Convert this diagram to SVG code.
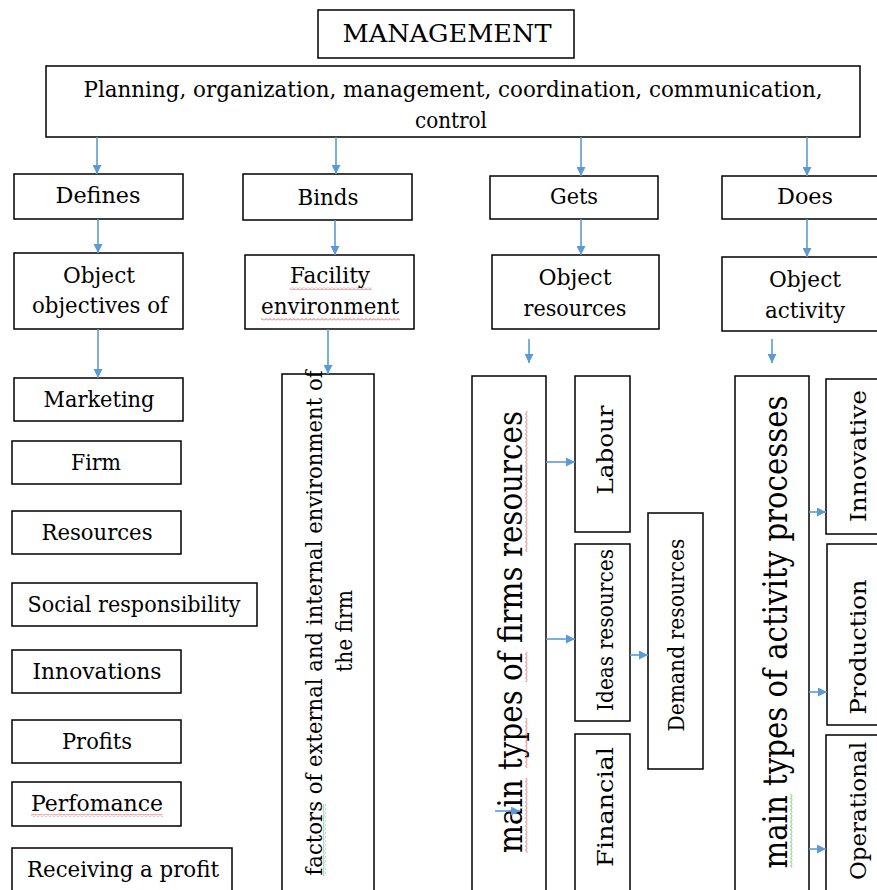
<svg xmlns="http://www.w3.org/2000/svg" width="877" height="890" viewBox="0 0 877 890">
<style>
.b{fill:#fff;stroke:#000;stroke-width:1.5}
.t{font-family:'DejaVu Serif','Liberation Serif',serif;font-size:23px;fill:#000;text-anchor:middle}
.big{font-size:33px}
.c{stroke:#5b9bd5;stroke-width:1.6;fill:none;marker-end:url(#ah)}
</style>
<defs>
<marker id="ah" viewBox="0 0 10 10" refX="10" refY="5" markerWidth="9" markerHeight="9" markerUnits="userSpaceOnUse" orient="auto"><path d="M0,0 L10,5 L0,10 z" fill="#5b9bd5"/></marker>
<pattern id="wr" width="4" height="3" patternUnits="userSpaceOnUse"><path d="M0,2.5 L2,0.5 L4,2.5" fill="none" stroke="#e03c3c" stroke-width="0.8"/></pattern>
<pattern id="wg" width="4" height="3" patternUnits="userSpaceOnUse"><path d="M0,2.5 L2,0.5 L4,2.5" fill="none" stroke="#3cae3c" stroke-width="0.8"/></pattern>
</defs>
<rect width="877" height="890" fill="#fff"/>

<g id="management"><rect class="b" x="318" y="10" width="256" height="48"/><text class="t" x="447" y="42" style="font-size:24px" textLength="209" lengthAdjust="spacingAndGlyphs">MANAGEMENT</text></g>
<g id="functions"><rect class="b" x="46" y="66" width="814" height="71"/><text class="t" x="453" y="97" textLength="739" lengthAdjust="spacingAndGlyphs">Planning, organization, management, coordination, communication,</text><text class="t" x="451" y="128" textLength="72" lengthAdjust="spacingAndGlyphs">control</text></g>

<g id="defines"><rect class="b" x="14" y="174" width="169" height="45"/><text class="t" x="98" y="203" textLength="85" lengthAdjust="spacingAndGlyphs">Defines</text></g>
<g id="binds"><rect class="b" x="243" y="174" width="169" height="46"/><text class="t" x="328" y="205" textLength="61" lengthAdjust="spacingAndGlyphs">Binds</text></g>
<g id="gets"><rect class="b" x="490" y="176" width="168" height="43"/><text class="t" x="574" y="204" textLength="48" lengthAdjust="spacingAndGlyphs">Gets</text></g>
<g id="does"><rect class="b" x="722" y="176" width="170" height="43"/><text class="t" x="805" y="204" textLength="56" lengthAdjust="spacingAndGlyphs">Does</text></g>

<g id="objectives"><rect class="b" x="14" y="253" width="169" height="76"/><text class="t" x="99" y="283" textLength="72" lengthAdjust="spacingAndGlyphs">Object</text><text class="t" x="100" y="313" textLength="136" lengthAdjust="spacingAndGlyphs">objectives of</text></g>
<g id="facility"><rect class="b" x="245" y="255" width="169" height="74"/><text class="t" x="330" y="283" textLength="80" lengthAdjust="spacingAndGlyphs">Facility</text><text class="t" x="330" y="314" textLength="138" lengthAdjust="spacingAndGlyphs">environment</text><rect x="290" y="287" width="82" height="3" fill="url(#wr)"/><rect x="261" y="318" width="139" height="3" fill="url(#wr)"/></g>
<g id="resources-obj"><rect class="b" x="492" y="255" width="167" height="74"/><text class="t" x="575" y="285" textLength="73" lengthAdjust="spacingAndGlyphs">Object</text><text class="t" x="575" y="316" textLength="103" lengthAdjust="spacingAndGlyphs">resources</text></g>
<g id="activity-obj"><rect class="b" x="722" y="257" width="170" height="74"/><text class="t" x="805" y="287" textLength="72" lengthAdjust="spacingAndGlyphs">Object</text><text class="t" x="805" y="318" textLength="80" lengthAdjust="spacingAndGlyphs">activity</text></g>

<g id="marketing"><rect class="b" x="14" y="378" width="169" height="43"/><text class="t" x="99" y="407" textLength="111" lengthAdjust="spacingAndGlyphs">Marketing</text></g>
<g id="firm"><rect class="b" x="12" y="441" width="169" height="43"/><text class="t" x="96" y="470" textLength="50" lengthAdjust="spacingAndGlyphs">Firm</text></g>
<g id="resources"><rect class="b" x="12" y="511" width="169" height="43"/><text class="t" x="97" y="540" textLength="111" lengthAdjust="spacingAndGlyphs">Resources</text></g>
<g id="social"><rect class="b" x="12" y="583" width="245" height="43"/><text class="t" x="134" y="612" textLength="213" lengthAdjust="spacingAndGlyphs">Social responsibility</text></g>
<g id="innovations"><rect class="b" x="12" y="650" width="169" height="43"/><text class="t" x="97" y="679" textLength="129" lengthAdjust="spacingAndGlyphs">Innovations</text></g>
<g id="profits"><rect class="b" x="12" y="720" width="169" height="43"/><text class="t" x="97" y="749" textLength="70" lengthAdjust="spacingAndGlyphs">Profits</text></g>
<g id="perfomance"><rect class="b" x="12" y="782" width="169" height="44"/><text class="t" x="97" y="811" textLength="132" lengthAdjust="spacingAndGlyphs">Perfomance</text><rect x="31" y="814" width="132" height="3" fill="url(#wr)"/></g>
<g id="receiving"><rect class="b" x="12" y="848" width="220" height="50"/><text class="t" x="123" y="877" textLength="192" lengthAdjust="spacingAndGlyphs">Receiving a profit</text></g>

<g id="factors"><rect class="b" x="282" y="374" width="92" height="530"/>
<text class="t" transform="translate(322,623) rotate(-90)" textLength="505" lengthAdjust="spacingAndGlyphs">factors of external and internal environment of</text>
<text class="t" transform="translate(352,631) rotate(-90)" textLength="82" lengthAdjust="spacingAndGlyphs">the firm</text>
<g transform="translate(322,623) rotate(-90)"><rect x="-253" y="1" width="72" height="3" fill="url(#wg)"/></g>
</g>

<g id="firms-resources"><rect class="b" x="472" y="376" width="74" height="530"/>
<text class="t big" transform="translate(522,632) rotate(-90)" textLength="442" lengthAdjust="spacingAndGlyphs">main types of firms resources</text>
<g transform="translate(522,632) rotate(-90)"><rect x="-221" y="3" width="75" height="3" fill="url(#wr)"/><rect x="-136" y="3" width="50" height="3" fill="url(#wr)"/><rect x="-50" y="3" width="30" height="3" fill="url(#wr)"/><rect x="80" y="3" width="141" height="3" fill="url(#wr)"/></g>
</g>
<g id="labour"><rect class="b" x="575" y="376" width="55" height="156"/><text class="t" transform="translate(613,450) rotate(-90)" textLength="89" lengthAdjust="spacingAndGlyphs">Labour</text></g>
<g id="ideas"><rect class="b" x="575" y="544" width="55" height="177"/><text class="t" transform="translate(613,630) rotate(-90)" textLength="162" lengthAdjust="spacingAndGlyphs">Ideas resources</text></g>
<g id="financial"><rect class="b" x="575" y="734" width="55" height="170"/><text class="t" transform="translate(613,807) rotate(-90)" textLength="120" lengthAdjust="spacingAndGlyphs">Financial</text></g>
<g id="demand"><rect class="b" x="648" y="513" width="55" height="256"/><text class="t" transform="translate(684,635) rotate(-90)" textLength="193" lengthAdjust="spacingAndGlyphs">Demand resources</text></g>

<g id="activity-processes"><rect class="b" x="735" y="376" width="74" height="530"/>
<text class="t big" transform="translate(787,632) rotate(-90)" textLength="473" lengthAdjust="spacingAndGlyphs">main types of activity processes</text>
<g transform="translate(787,632) rotate(-90)"><rect x="-236" y="3" width="74" height="3" fill="url(#wg)"/></g>
</g>
<g id="innovative"><rect class="b" x="826" y="379" width="70" height="155"/><text class="t" transform="translate(866,456) rotate(-90)" textLength="132" lengthAdjust="spacingAndGlyphs">Innovative</text></g>
<g id="production"><rect class="b" x="827" y="544" width="70" height="181"/><text class="t" transform="translate(866,647) rotate(-90)" textLength="135" lengthAdjust="spacingAndGlyphs">Production</text></g>
<g id="operational"><rect class="b" x="826" y="735" width="70" height="170"/><text class="t" transform="translate(866,811) rotate(-90)" textLength="138" lengthAdjust="spacingAndGlyphs">Operational</text></g>

<g id="connectors">
<path class="c" d="M97,137 V174"/>
<path class="c" d="M336,137 V174"/>
<path class="c" d="M581,137 V176"/>
<path class="c" d="M807,137 V176"/>
<path class="c" d="M98,219 V253"/>
<path class="c" d="M335,220 V255"/>
<path class="c" d="M581,219 V255"/>
<path class="c" d="M807,219 V257"/>
<path class="c" d="M98,329 V378"/>
<path class="c" d="M328,329 V374"/>
<path class="c" d="M529,339 V363"/>
<path class="c" d="M772,339 V363"/>
<path class="c" d="M546,462 H575"/>
<path class="c" d="M546,639 H575"/>
<path class="c" d="M630,655 H648"/>
<path class="c" d="M809,512 H826"/>
<path class="c" d="M809,692 H827"/>
<path class="c" d="M809,849 H826"/>
<path class="c" d="M495,811 H520"/>
</g>
</svg>
